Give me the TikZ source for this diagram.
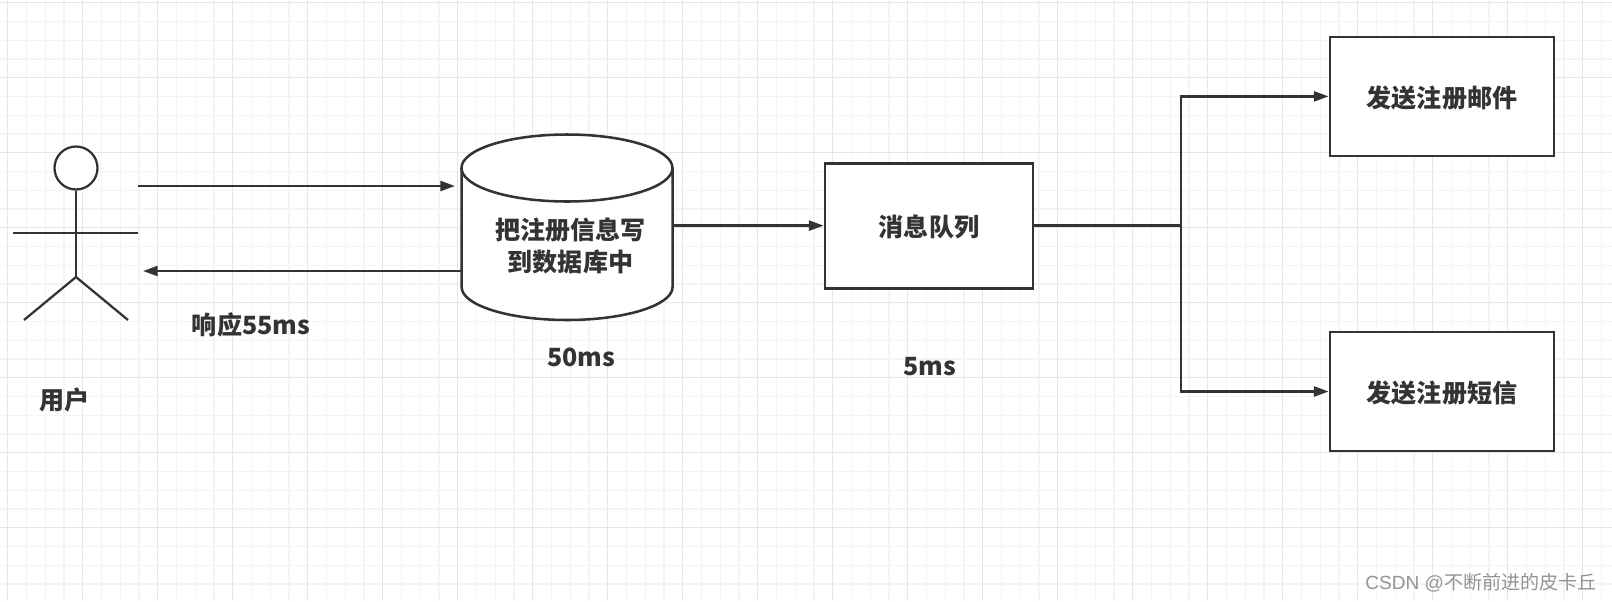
\documentclass[tikz,border=0pt]{standalone}
\usepackage{fontspec}
\setmainfont{Noto Sans CJK SC}
\newfontfamily\wmlatin{Liberation Sans}
\usetikzlibrary{arrows.meta}
\definecolor{ink}{HTML}{333333}
\definecolor{majorline}{HTML}{E6E6E6}
\definecolor{minorline}{HTML}{F4F4F4}
\def\px{0.75pt}

\begin{document}
\begin{tikzpicture}[
  x=0.75pt, y=-0.75pt,
  font=\bfseries\fontsize{18.8}{23.5}\selectfont,
  arr/.style={-{Triangle[length=11pt,width=7.5pt]}, color=ink, line width=1.7pt},
  stem/.style={color=ink, line width=2.2pt},
  limb/.style={color=ink, line width=1.7pt},
  lbl/.style={text=ink, align=center, inner sep=0pt},
  box/.style={draw=ink, fill=white, line width=2.1pt, text=ink, align=center, inner sep=0pt,
    text height=17pt, text depth=0pt},
  cyl/.style={draw=ink, fill=white, line width=1.9pt},
  majorgrid/.style={majorline, line width=1pt},
  minorgrid/.style={minorline, line width=1pt}
]
\useasboundingbox (0,0) rectangle (1612,601);
\fill[white] (0,0) rectangle (1612,601);

% -------------------------------------------------
% Background grid
% -------------------------------------------------
\foreach \i in {0,...,85} {\draw[minorgrid] ({7.7+18.75*\i},0) -- ({7.7+18.75*\i},601);}
\foreach \i in {0,...,32} {\draw[minorgrid] (0,{2.7+18.75*\i}) -- (1612,{2.7+18.75*\i});}
\foreach \i in {0,...,21} {\draw[majorgrid] ({7.7+75*\i},0) -- ({7.7+75*\i},601);}
\foreach \i in {0,...,8} {\draw[majorgrid] (0,{2.7+75*\i}) -- (1612,{2.7+75*\i});}

% -------------------------------------------------
% User figure
% -------------------------------------------------
\node[draw=ink, fill=white, line width=1.7pt, circle, inner sep=0pt, minimum size=43*\px] (head) at (76,168) {};
\coordinate (hip) at (76,277);
\coordinate (armL) at (13,233);
\coordinate (armR) at (138,233);
\coordinate (footL) at (24,320);
\coordinate (footR) at (128,320);
\draw[limb] (head.south) -- (hip);
\draw[limb] (armL) -- (armR);
\draw[limb] (footL) -- (hip) -- (footR);
\node[lbl] (user) at (64.5,400) {用户};

% -------------------------------------------------
% Database + queue + targets
% -------------------------------------------------
\draw[cyl] (461.6,168) -- (461.6,287)
  .. controls (461.6,305.2) and (508.7,320) .. (567,320)
  .. controls (625.3,320) and (672.6,305.2) .. (672.6,287) -- (672.6,168);
\draw[cyl] (567,168) ellipse [x radius=105.5, y radius=33.5];
\node[lbl, minimum width=211*\px, minimum height=186*\px] (db) at (567,227) {};
\node[lbl] (dbtext) at (570.5,246) {把注册信息写\\到数据库中};
\node[box, minimum width=208*\px, minimum height=125*\px] (queue) at (929,225.6) {消息队列};
\node[box, minimum width=224*\px, minimum height=119*\px] (mail) at (1442,96.4) {发送注册邮件};
\node[box, minimum width=224*\px, minimum height=119*\px] (sms) at (1442,391.5) {发送注册短信};

% -------------------------------------------------
% Timing labels
% -------------------------------------------------
\node[lbl] (resp) at (251,325) {响应55ms};
\node[lbl] (dbtime) at (581,357) {50ms};
\node[lbl] (queuetime) at (930,367) {5ms};

% -------------------------------------------------
% Arrows
% -------------------------------------------------
\coordinate (reqstart) at (138,186);
\coordinate (reqend) at (455,186);
\coordinate (respend) at (143,271);
\coordinate (branch) at (1181,225.6);

\draw[arr] (reqstart) -- (reqend);
\draw[arr] (db.west |- respend) -- (respend);
\draw[arr] (db.east |- queue.west) -- (queue.west);
\draw[stem] (queue.east) -- (branch);
\draw[arr] (branch) |- (mail.west);
\draw[arr] (branch) |- (sms.west);

% -------------------------------------------------
% Watermark
% -------------------------------------------------
\node[inner sep=0pt, text=black!42, font=\mdseries\fontsize{14.3}{18}\selectfont] (mark) at (1481,583) {{\wmlatin CSDN @}不断前进的皮卡丘};

\end{tikzpicture}
\end{document}
